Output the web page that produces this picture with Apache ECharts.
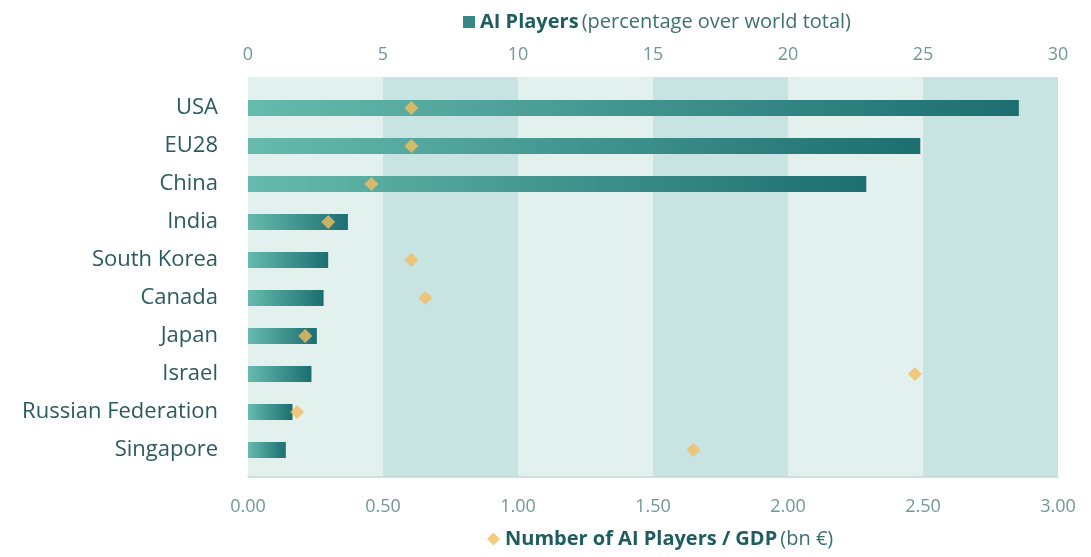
<!DOCTYPE html>
<html><head><meta charset="utf-8">
<script src="https://cdn.jsdelivr.net/npm/echarts@6/dist/echarts.min.js"></script>
<style>html,body{margin:0;padding:0;background:#fff}#c{width:1091px;height:557px}</style>
</head><body><div id="c"></div>
<script>
const countries = ['USA','EU28','China','India','South Korea','Canada','Japan','Israel','Russian Federation','Singapore'];
const aiPlayersPct = [28.55, 24.9, 22.9, 3.7, 2.97, 2.8, 2.55, 2.35, 1.65, 1.4];
const aiPerGdp = [0.605, 0.605, 0.457, 0.297, 0.605, 0.657, 0.212, 2.47, 0.182, 1.65];
const topTicks = [0, 5, 10, 15, 20, 25, 30];
const bottomTicks = [0, 0.5, 1, 1.5, 2, 2.5, 3];

const FONT = 'Open Sans';
const chart = echarts.init(document.getElementById('c'), null, {renderer:'canvas'});
const option = {
  animation:false,
  backgroundColor:'#fff',
  textStyle:{fontFamily:FONT},
  legend:[
    {data:[{name:'AI Players', itemStyle:{color:'#358883'}}], top:7, left:458, icon:'rect', itemWidth:12, itemHeight:12, itemGap:6,
     formatter:function(){return '{b|AI Players} {n|(percentage over world total)}';},
     textStyle:{rich:{b:{fontFamily:FONT,fontSize:20,fontWeight:'bold',color:'#1f5c60'},n:{fontFamily:FONT,fontSize:20,color:'#3d7073'}}}},
    {data:['Number of AI Players / GDP'], bottom:3, left:482, icon:'diamond', itemWidth:13, itemHeight:13,
     formatter:function(){return '{b|Number of AI Players / GDP} {n|(bn €)}';},
     textStyle:{rich:{b:{fontFamily:FONT,fontSize:20,fontWeight:'bold',color:'#1f5c60'},n:{fontFamily:FONT,fontSize:20,color:'#3d7073'}}}}
  ],
  grid:[
    {left:248, right:33, top:77, bottom:80},
    {left:248, right:33, top:89, bottom:88}
  ],
  xAxis:[
    {gridIndex:0, type:'value', position:'top', min:topTicks[0], max:topTicks[topTicks.length-1], interval:5,
     axisLine:{show:false}, axisTick:{show:false}, splitLine:{show:false},
     splitArea:{show:true, areaStyle:{color:['#e3f1ee','#c7e4e3']}},
     axisLabel:{color:'#6f9897', fontSize:18, margin:13, fontFamily:FONT}},
    {gridIndex:0, type:'value', position:'bottom', min:bottomTicks[0], max:bottomTicks[bottomTicks.length-1], interval:0.5,
     axisLine:{show:true, lineStyle:{color:'#c4d6d5', width:1.5}}, axisTick:{show:false}, splitLine:{show:false},
     axisLabel:{color:'#6f9897', fontSize:18, margin:21, fontFamily:FONT, formatter:function(v){return v.toFixed(2);}}},
    {gridIndex:1, type:'value', min:0, max:30, show:false},
    {gridIndex:1, type:'value', min:0, max:3, show:false}
  ],
  yAxis:[
    {gridIndex:0, type:'value', show:false, min:0, max:1},
    {gridIndex:1, type:'category', data:countries, inverse:true,
     axisLine:{show:false}, axisTick:{show:false}, splitLine:{show:false},
     axisLabel:{color:'#2b5b5f', fontSize:22, margin:30, fontFamily:FONT}}
  ],
  series:[
    {name:'AI Players', type:'bar', xAxisIndex:2, yAxisIndex:1, data:aiPlayersPct, barWidth:16,
     itemStyle:{color:new echarts.graphic.LinearGradient(0,0,1,0,[{offset:0,color:'#66bbad'},{offset:1,color:'#1c6e70'}])}, z:2},
    {name:'Number of AI Players / GDP', type:'scatter', xAxisIndex:3, yAxisIndex:1, data:aiPerGdp, symbol:'diamond', symbolSize:[14,14],
     itemStyle:{color:'#f4be5e'}, z:5}
  ]
};
chart.setOption(option);
</script></body></html>
